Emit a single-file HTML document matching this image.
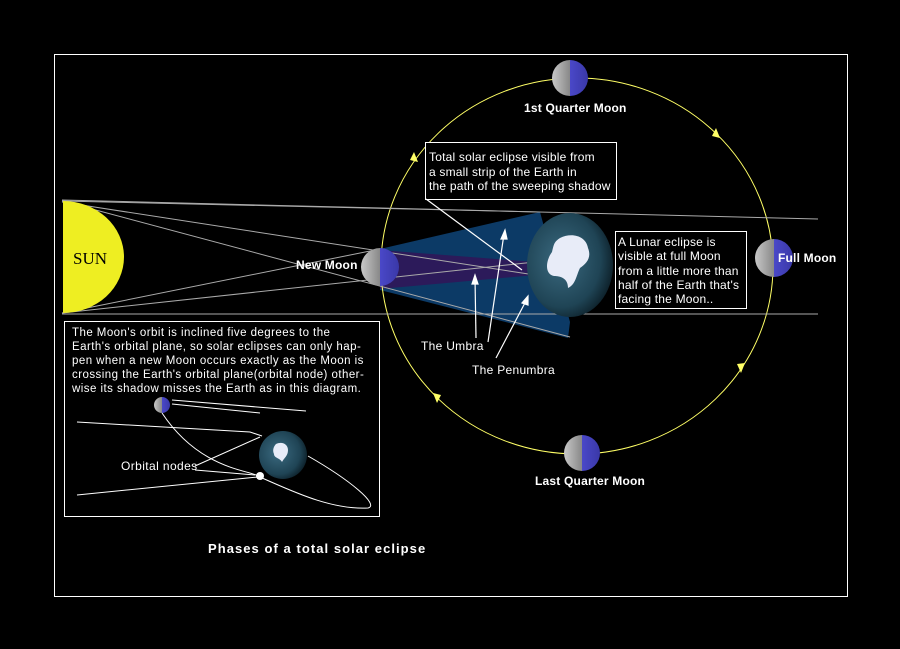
<!DOCTYPE html>
<html><head><meta charset="utf-8"><style>
body{margin:0;background:#000;}
svg{display:block}
text{font-family:"Liberation Sans",sans-serif;fill:#fff}
</style></head><body>
<svg width="900" height="649" viewBox="0 0 900 649" xmlns="http://www.w3.org/2000/svg">
<defs>
<radialGradient id="earth" cx="0.4" cy="0.45" r="0.65"><stop offset="0" stop-color="#3b6a80"/><stop offset="0.7" stop-color="#1f4455"/><stop offset="1" stop-color="#0a1a22"/></radialGradient>
<linearGradient id="moon" x1="0" x2="1"><stop offset="0" stop-color="#c8c8c8"/><stop offset="0.5" stop-color="#888"/><stop offset="0.5" stop-color="#4a48c8"/><stop offset="1" stop-color="#3a38a8"/></linearGradient>
</defs>
<rect x="0" y="0" width="900" height="649" fill="#000"/>
<rect x="54.5" y="54.5" width="793" height="542" fill="none" stroke="#fff" stroke-width="1"/>
<polygon points="380,249 540,212 570,322 568,338 380,290" fill="#0c3a66"/>
<polygon points="380,250 535,262 535,275 380,289" fill="#2c1a5a"/>
<ellipse cx="577" cy="266" rx="196" ry="188" fill="none" stroke="#ffff66" stroke-width="1"/>
<polygon points="414,152 418,162 410,160" fill="#ffff66"/>
<polygon points="716,128 720,138 712,136" fill="#ffff66"/>
<polygon points="741,373 745,363 737,364" fill="#ffff66"/>
<polygon points="437,403 433,393 441,395" fill="#ffff66"/>
<g stroke="#aaa" stroke-width="1" fill="none">
<line x1="62" y1="200" x2="818" y2="219"/>
<line x1="62" y1="314" x2="818" y2="314"/>
<line x1="62" y1="201" x2="540" y2="212"/>
<line x1="62" y1="201" x2="570" y2="337"/>
<line x1="62" y1="313" x2="535" y2="262"/>
<line x1="62" y1="313" x2="380" y2="249"/>
<line x1="62" y1="202" x2="535" y2="275"/>
</g>
<path d="M63,201 A61,56 0 0 1 63,313 Z" fill="#eeee22"/>
<text x="73" y="264" style="font-family:'Liberation Serif',serif;fill:#000" font-size="17">SUN</text>
<ellipse cx="570" cy="265" rx="43" ry="52" fill="url(#earth)"/>
<path d="M560,238 c12,-6 26,-2 28,10 c4,10 -2,16 -8,20 c-4,8 -4,16 -12,20 c0,-10 -8,-12 -14,-12 c-10,-2 -8,-16 -2,-24 c2,-8 2,-10 8,-14z" fill="#e8ecf8"/>
<circle cx="570" cy="78" r="18" fill="url(#moon)"/>
<circle cx="582" cy="453" r="18" fill="url(#moon)"/>
<circle cx="774" cy="258" r="19" fill="url(#moon)"/>
<circle cx="380" cy="267" r="19" fill="url(#moon)"/>
<g font-weight="bold" font-size="12" letter-spacing="0.2">
<text x="524" y="112">1st Quarter Moon</text>
<text x="535" y="485">Last Quarter Moon</text>
<text x="778" y="262">Full Moon</text>
<text x="296" y="269">New Moon</text>
<text x="208" y="553" font-size="13" letter-spacing="1.05">Phases of a total solar eclipse</text>
</g>
<rect x="425.5" y="142.5" width="191" height="57" fill="#000" stroke="#fff"/>
<g font-size="12" letter-spacing="0.2"><text x="429" y="161">Total solar eclipse visible from</text>
<text x="429" y="176">a small strip of the Earth in</text>
<text x="429" y="190">the path of the sweeping shadow</text></g>
<rect x="615.5" y="231.5" width="131" height="77" fill="#000" stroke="#fff"/>
<g font-size="12" letter-spacing="0.2"><text x="618" y="246">A Lunar eclipse is</text>
<text x="618" y="260">visible at full Moon</text>
<text x="618" y="275">from a little more than</text>
<text x="618" y="289">half of the Earth that's</text>
<text x="618" y="303">facing the Moon..</text></g>
<g stroke="#fff" stroke-width="1.2" fill="#fff">
<line x1="426" y1="199" x2="522" y2="270"/>
<line x1="476" y1="338" x2="475" y2="278"/><polygon points="475,275 472,284 478,284"/>
<line x1="488" y1="342" x2="504" y2="234"/><polygon points="505,230 501,239 507,239"/>
<line x1="496" y1="358" x2="527" y2="299"/><polygon points="528,296 522,303 528,305"/>
</g>
<text x="421" y="350" font-size="12" letter-spacing="0.3">The Umbra</text>
<text x="472" y="374" font-size="12" letter-spacing="0.3">The Penumbra</text>
<rect x="64.5" y="321.5" width="315" height="195" fill="#000" stroke="#fff"/>
<g font-size="11.5" letter-spacing="0.45"><text x="72" y="336">The Moon's orbit is inclined five degrees to the</text>
<text x="72" y="350">Earth's orbital plane, so solar eclipses can only hap-</text>
<text x="72" y="364">pen when a new Moon occurs exactly as the Moon is</text>
<text x="72" y="378">crossing the Earth's orbital plane(orbital node) other-</text>
<text x="72" y="392">wise its shadow misses the Earth as in this diagram.</text></g>
<circle cx="283" cy="455" r="24" fill="url(#earth)"/>
<path d="M276,444 c6,-3 12,0 12,6 c0,6 -4,8 -6,12 c-2,-4 -8,-4 -8,-8 c-2,-4 0,-8 2,-10z" fill="#e8ecf8"/>
<circle cx="162" cy="405" r="8" fill="url(#moon)"/>
<g stroke="#fff" stroke-width="1" fill="none">
<path d="M77,422 L250,432 L262,436"/>
<path d="M77,495 L258,477"/>
<path d="M172,400 L306,411 M172,404 L260,413"/>
<path d="M162,413 C200,470 250,470 258,476"/>
<path d="M308,456 C350,480 380,505 368,508 C330,510 290,490 262,478"/>
<path d="M195,466 L260,437 M195,470 L255,475"/>
</g>
<circle cx="260" cy="476" r="4" fill="#fff"/>
<text x="121" y="470" font-size="12" letter-spacing="0.4">Orbital nodes</text>
</svg>
</body></html>
